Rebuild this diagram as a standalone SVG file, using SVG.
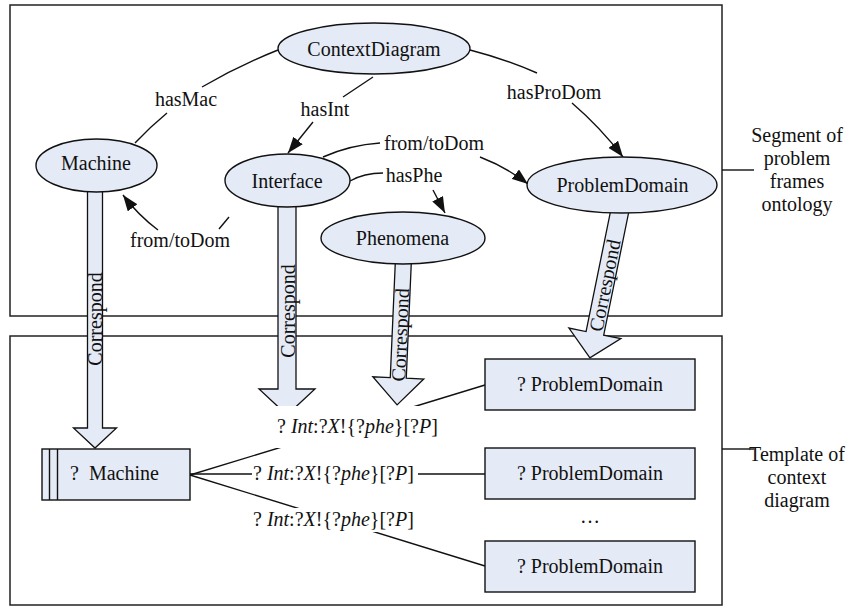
<svg xmlns="http://www.w3.org/2000/svg" width="858" height="607" viewBox="0 0 858 607" font-family="'Liberation Serif', 'Times New Roman', serif">
  <defs>
    <style>
      text { font-family: "Liberation Serif", "Times New Roman", serif; font-size: 20px; fill: #111; }
      .c { text-anchor: middle; }
      .frame { fill: none; stroke: #222; stroke-width: 1.5; }
      .node { fill: #E5EBF6; stroke: #111; stroke-width: 1.4; }
      .edge { fill: none; stroke: #111; stroke-width: 1.4; }
      .arrow { fill: #E5EBF6; stroke: #111; stroke-width: 1.3; stroke-linejoin: miter; }
      .lbl-bg { fill: #fff; stroke: none; }
      .lead { stroke: #111; stroke-width: 1.4; }
    </style>
    <marker id="head" markerUnits="userSpaceOnUse" viewBox="0 0 16 12" refX="16" refY="6" markerWidth="16" markerHeight="12" orient="auto">
      <path d="M0,0 L16,6 L0,12 z" fill="#111"/>
    </marker>
  </defs>

  <rect width="858" height="607" fill="#fff"/>

  <!-- two frames with side captions -->
  <g id="frame-ontology">
    <rect class="frame" x="10" y="5" width="712" height="311"/>
    <line class="lead" x1="722" y1="170" x2="754" y2="170"/>
    <text class="c" x="797" y="142">Segment of</text>
    <text class="c" x="797" y="165">problem</text>
    <text class="c" x="797" y="188">frames</text>
    <text class="c" x="797" y="211">ontology</text>
  </g>
  <g id="frame-template">
    <rect class="frame" x="10" y="336" width="712" height="269"/>
    <line class="lead" x1="722" y1="449" x2="754" y2="449"/>
    <text class="c" x="797" y="461">Template of</text>
    <text class="c" x="797" y="484">context</text>
    <text class="c" x="797" y="507">diagram</text>
  </g>

  <!-- "Correspond" block arrows -->
  <g id="correspond-arrows">
    <g transform="translate(95,185)">
      <path class="arrow" d="M-7.5,0 L7.5,0 L7.5,243 L21.5,243 L0,263 L-21.5,243 L-7.5,243 Z"/>
      <text class="c" transform="translate(7,134) rotate(-90)">Correspond</text>
    </g>
    <g transform="translate(287,200)">
      <path class="arrow" d="M-9,0 L9,0 L9,189 L28,189 L0,215 L-28,189 L-9,189 Z"/>
      <text class="c" transform="translate(8,111) rotate(-90)">Correspond</text>
    </g>
    <g transform="translate(403.5,258) rotate(2.5)">
      <path class="arrow" d="M-8,0 L8,0 L8,120 L25.5,120 L0,147 L-25.5,120 L-8,120 Z"/>
      <text class="c" transform="translate(7,77) rotate(-90)">Correspond</text>
    </g>
    <g transform="translate(621,205) rotate(11.5)">
      <path class="arrow" d="M-9,0 L9,0 L9,131 L26.5,131 L0,156 L-26.5,131 L-9,131 Z"/>
      <text class="c" transform="translate(7,82) rotate(-90)">Correspond</text>
    </g>
  </g>

  <!-- ontology relations -->
  <g id="connectors">
    <path class="edge" d="M278,50 Q238,66 202,87"/>
    <path class="edge" d="M167,113 Q150,127 135,143"/>
    <path class="edge" d="M373,77 L343,97"/>
    <path class="edge" d="M313,122 L288,153" marker-end="url(#head)"/>
    <path class="edge" d="M470,50 Q505,59 537,73"/>
    <path class="edge" d="M572,103 Q600,127 623,157" marker-end="url(#head)"/>
    <path class="edge" d="M323,157 Q350,145 380,143"/>
    <path class="edge" d="M480,157 Q506,167 528,184" marker-end="url(#head)"/>
    <path class="edge" d="M350,181 Q364,173 383,173"/>
    <path class="edge" d="M433,190 L445,213" marker-end="url(#head)"/>
    <path class="edge" d="M229,217 L219,229"/>
    <path class="edge" d="M158,230 Q138,215 123,195" marker-end="url(#head)"/>

    <!-- template interfaces -->
    <line class="edge" x1="190" y1="475" x2="485" y2="385"/>
    <line class="edge" x1="190" y1="474" x2="485" y2="474"/>
    <line class="edge" x1="190" y1="475" x2="485" y2="566"/>
  </g>

  <g id="edge-labels">
    <text class="c" x="186" y="106">hasMac</text>
    <text class="c" x="325" y="116">hasInt</text>
    <text class="c" x="554" y="99">hasProDom</text>
    <text class="c" x="434" y="150">from/toDom</text>
    <text class="c" x="414" y="182">hasPhe</text>
    <text class="c" x="180" y="247">from/toDom</text>

    <rect class="lbl-bg" x="251" y="406" width="222" height="42"/>
    <text x="277" y="433">? <tspan font-style="italic">Int</tspan>:?<tspan font-style="italic">X</tspan>!{?<tspan font-style="italic">phe</tspan>}[?<tspan font-style="italic">P</tspan>]</text>
    <rect class="lbl-bg" x="252" y="462" width="166" height="26"/>
    <text x="253" y="480">? <tspan font-style="italic">Int</tspan>:?<tspan font-style="italic">X</tspan>!{?<tspan font-style="italic">phe</tspan>}[?<tspan font-style="italic">P</tspan>]</text>
    <rect class="lbl-bg" x="252" y="508" width="166" height="24"/>
    <text x="253" y="526">? <tspan font-style="italic">Int</tspan>:?<tspan font-style="italic">X</tspan>!{?<tspan font-style="italic">phe</tspan>}[?<tspan font-style="italic">P</tspan>]</text>
  </g>

  <!-- ontology concepts -->
  <g id="ContextDiagram">
    <ellipse class="node" cx="374" cy="48.5" rx="96" ry="25.5"/>
    <text class="c" x="374" y="56">ContextDiagram</text>
  </g>
  <g id="Machine">
    <ellipse class="node" cx="96.5" cy="165.5" rx="60.5" ry="26.5"/>
    <text class="c" x="96" y="170">Machine</text>
  </g>
  <g id="Interface">
    <ellipse class="node" cx="287.5" cy="180.5" rx="62.5" ry="26.5"/>
    <text class="c" x="287" y="188">Interface</text>
  </g>
  <g id="Phenomena">
    <ellipse class="node" cx="403" cy="238" rx="82" ry="26"/>
    <text class="c" x="402.5" y="245">Phenomena</text>
  </g>
  <g id="ProblemDomain">
    <ellipse class="node" cx="622" cy="185" rx="95" ry="28"/>
    <text class="c" x="622.5" y="192">ProblemDomain</text>
  </g>

  <!-- context diagram template -->
  <g id="tpl-machine">
    <rect class="node" x="42" y="449" width="148" height="51"/>
    <line class="edge" x1="49.5" y1="449" x2="49.5" y2="500"/>
    <line class="edge" x1="57.5" y1="449" x2="57.5" y2="500"/>
    <text x="70" y="480" xml:space="preserve">?  Machine</text>
  </g>
  <g id="tpl-domain-1">
    <rect class="node" x="485" y="359" width="210" height="51"/>
    <text class="c" x="590" y="391">? ProblemDomain</text>
  </g>
  <g id="tpl-domain-2">
    <rect class="node" x="485" y="448" width="210" height="51"/>
    <text class="c" x="590" y="480">? ProblemDomain</text>
  </g>
  <text class="c" x="590" y="523">…</text>
  <g id="tpl-domain-3">
    <rect class="node" x="485" y="541" width="210" height="51"/>
    <text class="c" x="590" y="573">? ProblemDomain</text>
  </g>
</svg>
